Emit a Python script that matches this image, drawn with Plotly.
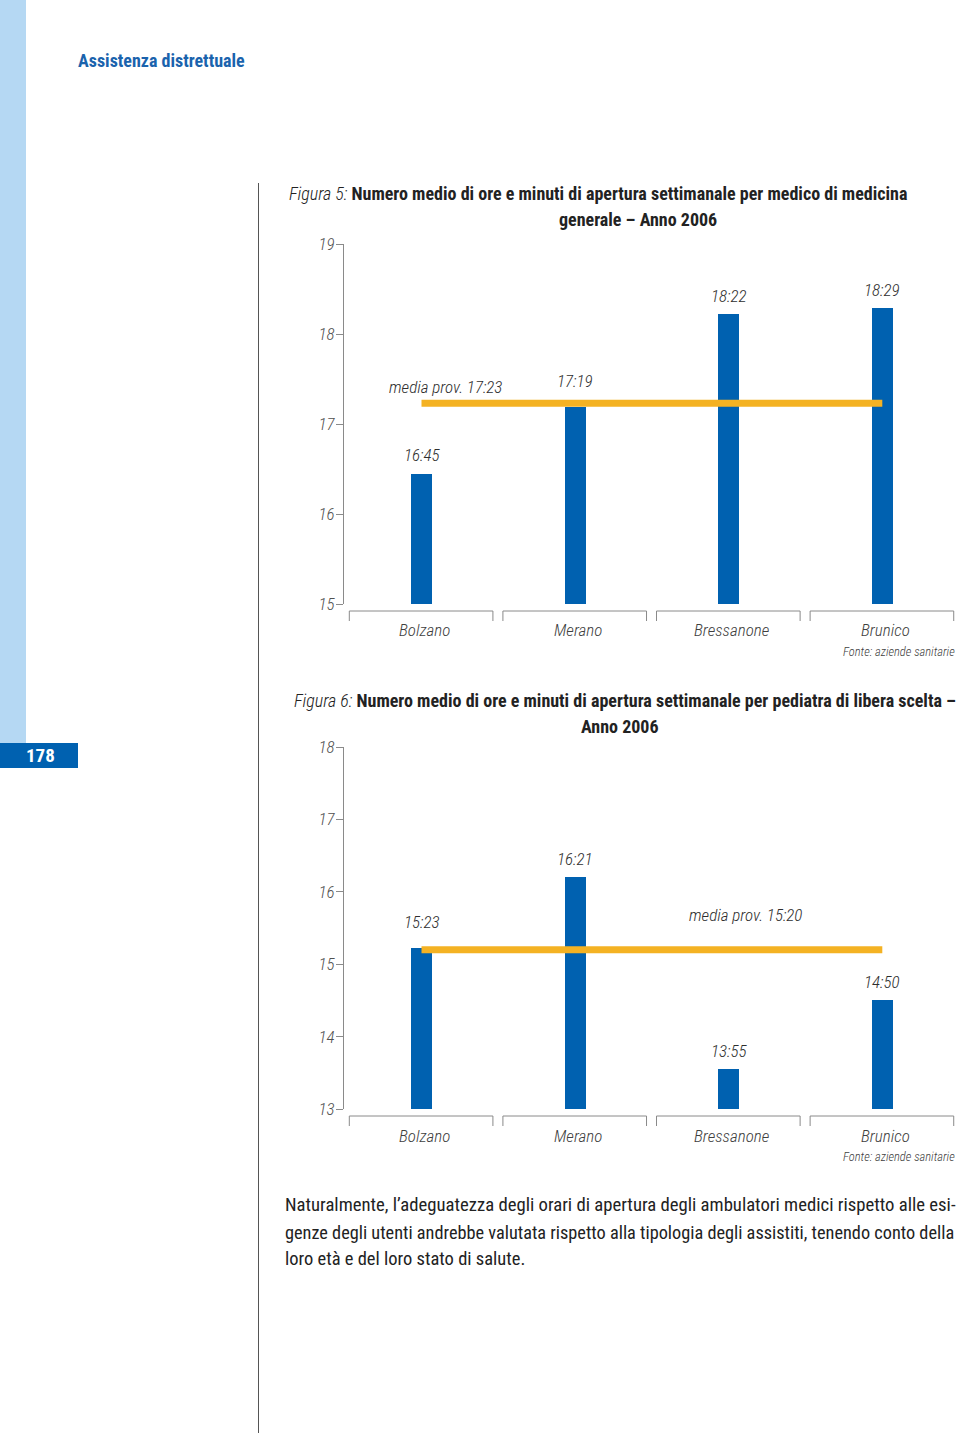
import plotly.graph_objects as go

# ---------------- data ----------------
categories = ["Bolzano", "Merano", "Bressanone", "Brunico"]

# Figura 5 (medico di medicina generale)
mmg_values = [16.45, 17.19, 18.22, 18.29]
mmg_labels = ["16:45", "17:19", "18:22", "18:29"]
mmg_mean = 17.23
mmg_mean_label = "media prov. 17:23"
mmg_ticks = [15, 16, 17, 18, 19]

# Figura 6 (pediatra di libera scelta)
pls_values = [15.23, 16.21, 13.55, 14.50]
pls_labels = ["15:23", "16:21", "13:55", "14:50"]
pls_mean = 15.20
pls_mean_label = "media prov. 15:20"
pls_ticks = [13, 14, 15, 16, 17, 18]

# ---------------- style ----------------
W, H = 960, 1433
FONT = "Roboto Condensed, Liberation Sans Narrow, sans-serif"
BAR = "#0061B0"
GOLD = "#F4B223"
GRAY = "#8a8a8a"
TXT = "#2e2e2e"


def px(x):
    return x / W


def py(y):
    return 1 - y / H


fig = go.Figure()

# subplot geometry (pixels)
X_LEFT, X_RIGHT = 344, 957
CAT0, STEP = 421.5, 153.6
xr = [-(CAT0 - X_LEFT) / STEP, 3 + (X_RIGHT - (CAT0 + 3 * STEP)) / STEP]

charts = [
    dict(vals=mmg_values, labs=mmg_labels, mean=mmg_mean, mlab=mmg_mean_label,
         ticks=mmg_ticks, ytop=244, ybot=604, xa="x", ya="y",
         shifts=[4, 12, 4, 4], mlab_xy=(445, 387), cat_y=630, src_y=651),
    dict(vals=pls_values, labs=pls_labels, mean=pls_mean, mlab=pls_mean_label,
         ticks=pls_ticks, ytop=747, ybot=1109, xa="x2", ya="y2",
         shifts=[12, 4, 4, 4], mlab_xy=(745, 915), cat_y=1136, src_y=1156),
]

annotations = []
shapes = []
light_italic = dict(family=FONT, size=17, color=TXT, style="italic", weight=300)

for i, c in enumerate(charts):
    fig.add_trace(go.Bar(x=categories, y=[v - c["ticks"][0] for v in c["vals"]],
                         base=c["ticks"][0], width=0.137,
                         marker=dict(color=BAR, line=dict(width=0)),
                         xaxis=c["xa"], yaxis=c["ya"], showlegend=False,
                         hoverinfo="skip"))
    fig.add_trace(go.Scatter(x=[categories[0], categories[-1]], y=[c["mean"], c["mean"]],
                             mode="lines", line=dict(color=GOLD, width=7),
                             xaxis=c["xa"], yaxis=c["ya"], showlegend=False,
                             hoverinfo="skip"))
    suffix = "" if i == 0 else "2"
    dom_y = [py(c["ybot"]), py(c["ytop"])]
    fig.update_layout(**{
        "xaxis" + suffix: dict(domain=[px(X_LEFT), px(X_RIGHT)], range=xr,
                               type="category", categoryorder="array",
                               categoryarray=categories, automargin=False,
                               visible=False, anchor="y" + suffix, fixedrange=True),
        "yaxis" + suffix: dict(domain=dom_y, range=[c["ticks"][0], c["ticks"][-1]],
                               anchor="x" + suffix, tickvals=c["ticks"],
                               showline=True, linecolor=GRAY, linewidth=1,
                               ticks="outside", ticklen=7, tickcolor=GRAY,
                               tickwidth=1, showgrid=False, zeroline=False,
                               automargin=False,
                               tickfont=dict(family=FONT, size=17, color="#505050",
                                             style="italic", weight=300),
                               ticklabelstandoff=-2, fixedrange=True),
    })
    # value labels
    for k, (v, lab) in enumerate(zip(c["vals"], c["labs"])):
        annotations.append(dict(x=k, y=v, xref=c["xa"], yref=c["ya"], text=lab,
                                showarrow=False, yanchor="bottom",
                                yshift=c["shifts"][k] + 2, font=light_italic))
    # mean label
    annotations.append(dict(x=px(c["mlab_xy"][0]), y=py(c["mlab_xy"][1]),
                            xref="paper", yref="paper", text=c["mlab"],
                            showarrow=False, xanchor="center", yanchor="middle",
                            font=light_italic))
    # category brackets + labels
    for k, cat in enumerate(categories):
        yb = py(c["ybot"] + 7)
        yl = py(c["ybot"] + 17)
        shapes.append(dict(type="path", xref=c["xa"], yref="paper",
                           path=f"M {k-0.47},{yl} L {k-0.47},{yb} L {k+0.465},{yb} L {k+0.465},{yl}",
                           line=dict(color=GRAY, width=1)))
        annotations.append(dict(x=k, y=py(c["cat_y"]), xref=c["xa"], yref="paper",
                                text=cat, showarrow=False, yanchor="middle", xshift=3,
                                font=dict(light_italic, color="#404040")))
    annotations.append(dict(x=px(957), y=py(c["src_y"]), xref="paper", yref="paper",
                            text="Fonte: aziende sanitarie", showarrow=False,
                            xanchor="right", yanchor="middle",
                            font=dict(family=FONT, size=12.5, color="#404040",
                                      style="italic", weight=300)))

# page decorations
shapes += [
    dict(type="rect", xref="paper", yref="paper", x0=0, x1=px(26), y0=py(743),
         y1=1, fillcolor="#B5D8F3", line=dict(width=0), layer="below"),
    dict(type="rect", xref="paper", yref="paper", x0=0, x1=px(78), y0=py(768),
         y1=py(743), fillcolor="#0061B0", line=dict(width=0), layer="below"),
    dict(type="line", xref="paper", yref="paper", x0=px(258.5), x1=px(258.5),
         y0=py(1433), y1=py(183), line=dict(color="#555", width=1)),
]

title_font = dict(family=FONT, size=18, color="#222", weight=300)
annotations += [
    dict(x=px(76), y=py(60), xref="paper", yref="paper", xanchor="left",
         yanchor="middle", showarrow=False, text="<b>Assistenza distrettuale</b>",
         font=dict(family=FONT, size=18, color="#1a63ad")),
    dict(x=px(40), y=py(755), xref="paper", yref="paper", xanchor="center",
         yanchor="middle", showarrow=False, text="<b>178</b>",
         font=dict(family=FONT, size=19, color="white")),
    dict(x=px(287), y=py(194), xref="paper", yref="paper", xanchor="left",
         yanchor="middle", showarrow=False,
         text="<i>Figura 5:</i> <b>Numero medio di ore e minuti di apertura settimanale per medico di medicina</b>",
         font=title_font),
    dict(x=px(638), y=py(220), xref="paper", yref="paper", xanchor="center",
         yanchor="middle", showarrow=False, text="<b>generale – Anno 2006</b>",
         font=title_font),
    dict(x=px(292), y=py(700), xref="paper", yref="paper", xanchor="left",
         yanchor="middle", showarrow=False,
         text="<i>Figura 6:</i> <b>Numero medio di ore e minuti di apertura settimanale per pediatra di libera scelta –</b>",
         font=title_font),
    dict(x=px(620), y=py(726), xref="paper", yref="paper", xanchor="center",
         yanchor="middle", showarrow=False, text="<b>Anno 2006</b>",
         font=title_font),
]

body = [
    "Naturalmente, l’adeguatezza degli orari di apertura degli ambulatori medici rispetto alle esi-",
    "genze degli utenti andrebbe valutata rispetto alla tipologia degli assistiti, tenendo conto della",
    "loro età e del loro stato di salute.",
]
body_sizes = [18.7, 18.3, 18.5]
for j, line in enumerate(body):
    annotations.append(dict(x=px(283), y=py(1205 + 27 * j), xref="paper", yref="paper",
                            xanchor="left", yanchor="middle", showarrow=False,
                            text=line, font=dict(family=FONT, size=body_sizes[j],
                                                 color="#222")))

fig.update_layout(template="none", width=W, height=H,
                  margin=dict(l=0, r=0, t=0, b=0, pad=0, autoexpand=False),
                  paper_bgcolor="white", plot_bgcolor="rgba(0,0,0,0)",
                  showlegend=False, shapes=shapes, annotations=annotations, bargap=0)

post = (
    "document.documentElement.style.margin='0';"
    "document.documentElement.style.overflow='hidden';"
    "document.body.style.margin='0';"
    "document.body.style.overflow='hidden';"
    "var gd=document.getElementById('{plot_id}');"
    "gd.style.position='absolute';gd.style.left='0px';gd.style.top='0px';"
)
fig.write_html("out.html", config={"displayModeBar": False}, post_script=post)
